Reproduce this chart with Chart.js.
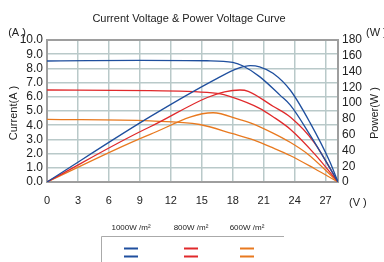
<!DOCTYPE html>
<html>
<head>
<meta charset="utf-8">
<script src="https://cdn.jsdelivr.net/npm/chart.js@4.4.1/dist/chart.umd.min.js"></script>
<style>
    html, body { margin: 0; padding: 0; background: #fff; }
    #wrap { width: 384px; height: 262px; }
</style>
</head>
<body>
<div id="wrap"><canvas id="chart" width="384" height="262"></canvas></div>
<script>
// I-V curves (volts / amps)
const ivVolts1000 = [0, 4, 9, 15.5, 18, 19, 20.6, 22.6, 23.6, 25.5, 27.4, 28.2];
const ivAmps1000 = [8.52, 8.55, 8.57, 8.54, 8.42, 8.17, 7.42, 6.1, 5.4, 3.3, 1.0, 0];
const ivVolts800 = [0, 10, 16.5, 18, 20.6, 21.9, 23.6, 25.9, 28.2];
const ivAmps800 = [6.48, 6.43, 6.24, 5.96, 5.19, 4.6, 3.7, 2.0, 0];
const ivVolts600 = [0, 10, 14.8, 18, 20, 21.9, 23.6, 25.9, 28.2];
const ivAmps600 = [4.41, 4.3, 4.05, 3.4, 2.96, 2.4, 1.85, 0.95, 0];

// P-V curves (volts / watts)
const pvVolts1000 = [0, 10, 16.5, 18.5, 19.7, 20.6, 21.9, 23.6, 25.5, 27.4, 28.2];
const pvWatts1000 = [0, 82.8, 131.4, 144, 147.5, 146, 137.8, 116, 75, 26, 0];
const pvVolts800 = [0, 10, 18.7, 19.5, 21.9, 23.6, 25.9, 28.2];
const pvWatts800 = [0, 70, 116.6, 115, 96, 82, 50, 0];
const pvVolts600 = [0, 10, 16.1, 18.7, 19.7, 21.9, 23.6, 25.2, 28.2];
const pvWatts600 = [0, 60.4, 87.8, 79, 75, 62, 50, 36, 0];

const xTicks = [0, 3, 6, 9, 12, 15, 18, 21, 24, 27];
const irradiance = ['1000W /m²', '800W /m²', '600W /m²'];
const colors = ['#1f4f9e', '#e0292b', '#e8791f'];

const pts = (xs, ys) => xs.map((x, i) => ({ x: x, y: ys[i] }));

function line(data, color, axis) {
    return {
        data: data,
        yAxisID: axis,
        borderColor: color,
        borderWidth: 1.3,
        pointRadius: 0,
        fill: false,
        cubicInterpolationMode: 'monotone'
    };
}

// extra text, frame and the custom legend
const decor = {
    id: 'decor',
    beforeDatasetsDraw(chart) {
        const ctx = chart.ctx, a = chart.chartArea;
        ctx.save();
        ctx.strokeStyle = '#9e9e9e';
        ctx.lineWidth = 2;
        ctx.strokeRect(a.left, a.top, a.right - a.left, a.bottom - a.top);
        ctx.restore();
    },
    afterDraw(chart) {
        const ctx = chart.ctx;
        ctx.save();
        ctx.fillStyle = '#222';
        ctx.textAlign = 'center';
        ctx.textBaseline = 'middle';
        ctx.font = '11px "Liberation Sans"';
        ctx.fillText('Current Voltage & Power Voltage Curve', 189, 19);

        ctx.fillText('(A )', 17, 33);
        ctx.textAlign = 'left';
        ctx.fillText('(W )', 366, 33);
        ctx.fillText('(V )', 349, 203);

        ctx.textAlign = 'center';
        ctx.save();
        ctx.translate(14, 113);
        ctx.rotate(-Math.PI / 2);
        ctx.fillText('Current(A )', 0, 0);
        ctx.restore();
        ctx.save();
        ctx.translate(375, 113);
        ctx.rotate(-Math.PI / 2);
        ctx.fillText('Power(W )', 0, 0);
        ctx.restore();

        // legend
        const centers = [131, 191, 247];
        ctx.font = '8px "Liberation Sans"';
        irradiance.forEach((t, i) => ctx.fillText(t, centers[i], 228));
        ctx.strokeStyle = '#aaaaaa';
        ctx.lineWidth = 1;
        ctx.beginPath();
        ctx.moveTo(101.5, 262);
        ctx.lineTo(101.5, 236.5);
        ctx.lineTo(284, 236.5);
        ctx.stroke();
        ctx.lineWidth = 2;
        colors.forEach((c, i) => {
            ctx.strokeStyle = c;
            [248.5, 256.5].forEach(y => {
                ctx.beginPath();
                ctx.moveTo(centers[i] - 7, y);
                ctx.lineTo(centers[i] + 7, y);
                ctx.stroke();
            });
        });
        ctx.restore();
    }
};

new Chart(document.getElementById('chart'), {
    type: 'line',
    data: {
        datasets: [
            line(pts(ivVolts1000, ivAmps1000), colors[0], 'y'),
            line(pts(pvVolts1000, pvWatts1000), colors[0], 'y1'),
            line(pts(ivVolts800, ivAmps800), colors[1], 'y'),
            line(pts(pvVolts800, pvWatts800), colors[1], 'y1'),
            line(pts(ivVolts600, ivAmps600), colors[2], 'y'),
            line(pts(pvVolts600, pvWatts600), colors[2], 'y1')
        ]
    },
    options: {
        responsive: false,
        animation: false,
        devicePixelRatio: 1,
        layout: { padding: { top: 40, bottom: 55, left: 0, right: 0 } },
        plugins: { legend: { display: false }, tooltip: { enabled: false } },
        scales: {
            x: {
                type: 'linear',
                min: 0,
                max: 28.2,
                afterBuildTicks: s => { s.ticks = xTicks.map(v => ({ value: v })); },
                afterFit: s => { s.height = 25; },
                grid: { color: '#b9c9c9', lineWidth: 1.5, drawTicks: false },
                border: { display: false },
                ticks: { color: '#222', font: { size: 11, family: 'Liberation Sans' }, padding: 12, maxRotation: 0, autoSkip: false }
            },
            y: {
                position: 'left',
                min: 0,
                max: 10,
                afterFit: s => { s.width = 47; },
                grid: { color: '#b9c9c9', lineWidth: 1.5, drawTicks: false },
                border: { display: false },
                ticks: {
                    stepSize: 1,
                    autoSkip: false,
                    color: '#222',
                    padding: 4,
                    font: { size: 12, family: 'Liberation Sans' },
                    callback: v => v.toFixed(1)
                }
            },
            y1: {
                position: 'right',
                min: 0,
                max: 180,
                afterFit: s => { s.width = 46; },
                grid: { drawOnChartArea: false, drawTicks: false },
                border: { display: false },
                ticks: { stepSize: 20, autoSkip: false, color: '#222', padding: 4, font: { size: 12, family: 'Liberation Sans' } }
            }
        }
    },
    plugins: [decor]
});
</script>
</body>
</html>
